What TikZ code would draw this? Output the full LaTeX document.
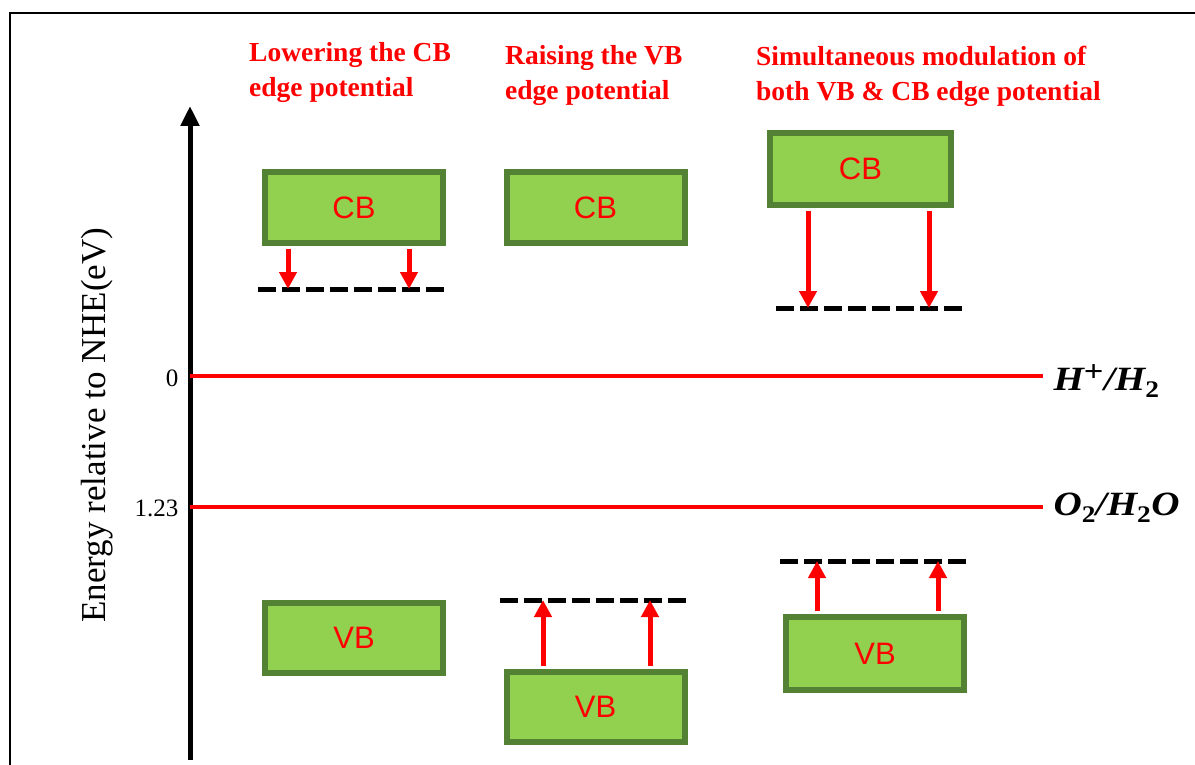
\documentclass[tikz,border=0pt]{standalone}
\usepackage{amsmath,amssymb}
\usepackage{fontspec}
\setmainfont{Liberation Serif}
\newfontfamily\boxfont{Liberation Sans}
\newfontfamily\couplefont[FakeStretch=1.15]{Liberation Serif}
\usetikzlibrary{arrows.meta}
\definecolor{bandfill}{HTML}{92D050}
\definecolor{banddraw}{HTML}{548235}
\definecolor{redline}{HTML}{FF0000}
\tikzset{
  band/.style={draw=banddraw,fill=bandfill,line width=6pt,minimum width=178pt,minimum height=70pt,
    inner sep=0pt,text=redline,font=\boxfont\fontsize{31}{32}\selectfont},
  edgeshift/.style={draw=redline,line width=5pt,shorten <=3pt,-{Triangle[length=17pt,width=17pt]}},
  redoxline/.style={draw=redline,line width=4pt},
  newedge/.style={draw=black,line width=5pt,dash pattern=on 18pt off 6pt},
  heading/.style={anchor=north west,align=left,text=redline,inner sep=0pt,
    font=\bfseries\fontsize{27.5}{35}\selectfont},
  couple/.style={anchor=west,font=\couplefont\bfseries\itshape\fontsize{34}{36}\selectfont},
  tick/.style={anchor=east,font=\fontsize{25}{27}\selectfont},
}
\begin{document}
\begin{tikzpicture}[x=1pt,y=-1pt]
\useasboundingbox (0,0) rectangle (1195,765);
\draw[line width=2pt] (10,765) -- (10,13) -- (1195,13);
% axis
\coordinate (axB) at (190,760);
\coordinate (axT) at (190,106);
\draw[line width=5pt,-{Triangle[length=20pt,width=18pt]}] (axB) -- (axT);
\node[rotate=90,font=\fontsize{35}{37}\selectfont] (ylab) at (97,425) {Energy relative to NHE(eV)};
% redox levels
\coordinate (hA) at (190,376);
\coordinate (hB) at (1043,376);
\coordinate (oA) at (190,507);
\coordinate (oB) at (1043,507);
\draw[redoxline] (hA) -- (hB);
\draw[redoxline] (oA) -- (oB);
\node[tick] (zero) at (182,378) {0};
\node[tick] (onetwo) at (182,508) {1.23};
\node[couple] (hlab) at (1050,381) {H\textsuperscript{\upshape\fontsize{30}{30}\selectfont +}/H\textsubscript{\upshape 2}};
\node[couple] (olab) at (1050,508) {O\textsubscript{\upshape 2}/H\textsubscript{\upshape 2}O};
% headings
\node[heading] (tA) at (249,42) {Lowering the CB\\edge potential};
\node[heading] (tB) at (505,45) {Raising the VB\\edge potential};
\node[heading] (tC) at (756,46) {Simultaneous modulation of\\both VB \& CB edge potential};
% bands
\node[band] (cbA) at (354,207.5) {CB};
\node[band] (vbA) at (354,637.5) {VB};
\node[band] (cbB) at (595.5,207.5) {CB};
\node[band] (vbB) at (595.5,706.5) {VB};
\node[band,minimum width=181pt,minimum height=72pt] (cbC) at (860.5,169) {CB};
\node[band,minimum height=73pt] (vbC) at (875,653.5) {VB};
% shifted edges
\coordinate (dA0) at (258,289);
\coordinate (dA1) at (288,289);
\coordinate (dA2) at (409,289);
\coordinate (dA3) at (447,289);
\coordinate (dB0) at (500,600);
\coordinate (dB1) at (543,600);
\coordinate (dB2) at (650,600);
\coordinate (dB3) at (690,600);
\coordinate (dC0) at (776,308);
\coordinate (dC1) at (808,308);
\coordinate (dC2) at (929,308);
\coordinate (dC3) at (964,308);
\coordinate (dD0) at (780,561);
\coordinate (dD1) at (817,561);
\coordinate (dD2) at (938,561);
\coordinate (dD3) at (970,561);
\draw[newedge] (dA0) -- (dA3);
\draw[newedge] (dB0) -- (dB3);
\draw[newedge] (dC0) -- (dC3);
\draw[newedge] (dD0) -- (dD3);
\draw[edgeshift] (cbA.south -| dA1) -- (dA1);
\draw[edgeshift] (cbA.south -| dA2) -- (dA2);
\draw[edgeshift] (vbB.north -| dB1) -- (dB1);
\draw[edgeshift] (vbB.north -| dB2) -- (dB2);
\draw[edgeshift] (cbC.south -| dC1) -- (dC1);
\draw[edgeshift] (cbC.south -| dC2) -- (dC2);
\draw[edgeshift] (vbC.north -| dD1) -- (dD1);
\draw[edgeshift] (vbC.north -| dD2) -- (dD2);
\end{tikzpicture}
\end{document}
